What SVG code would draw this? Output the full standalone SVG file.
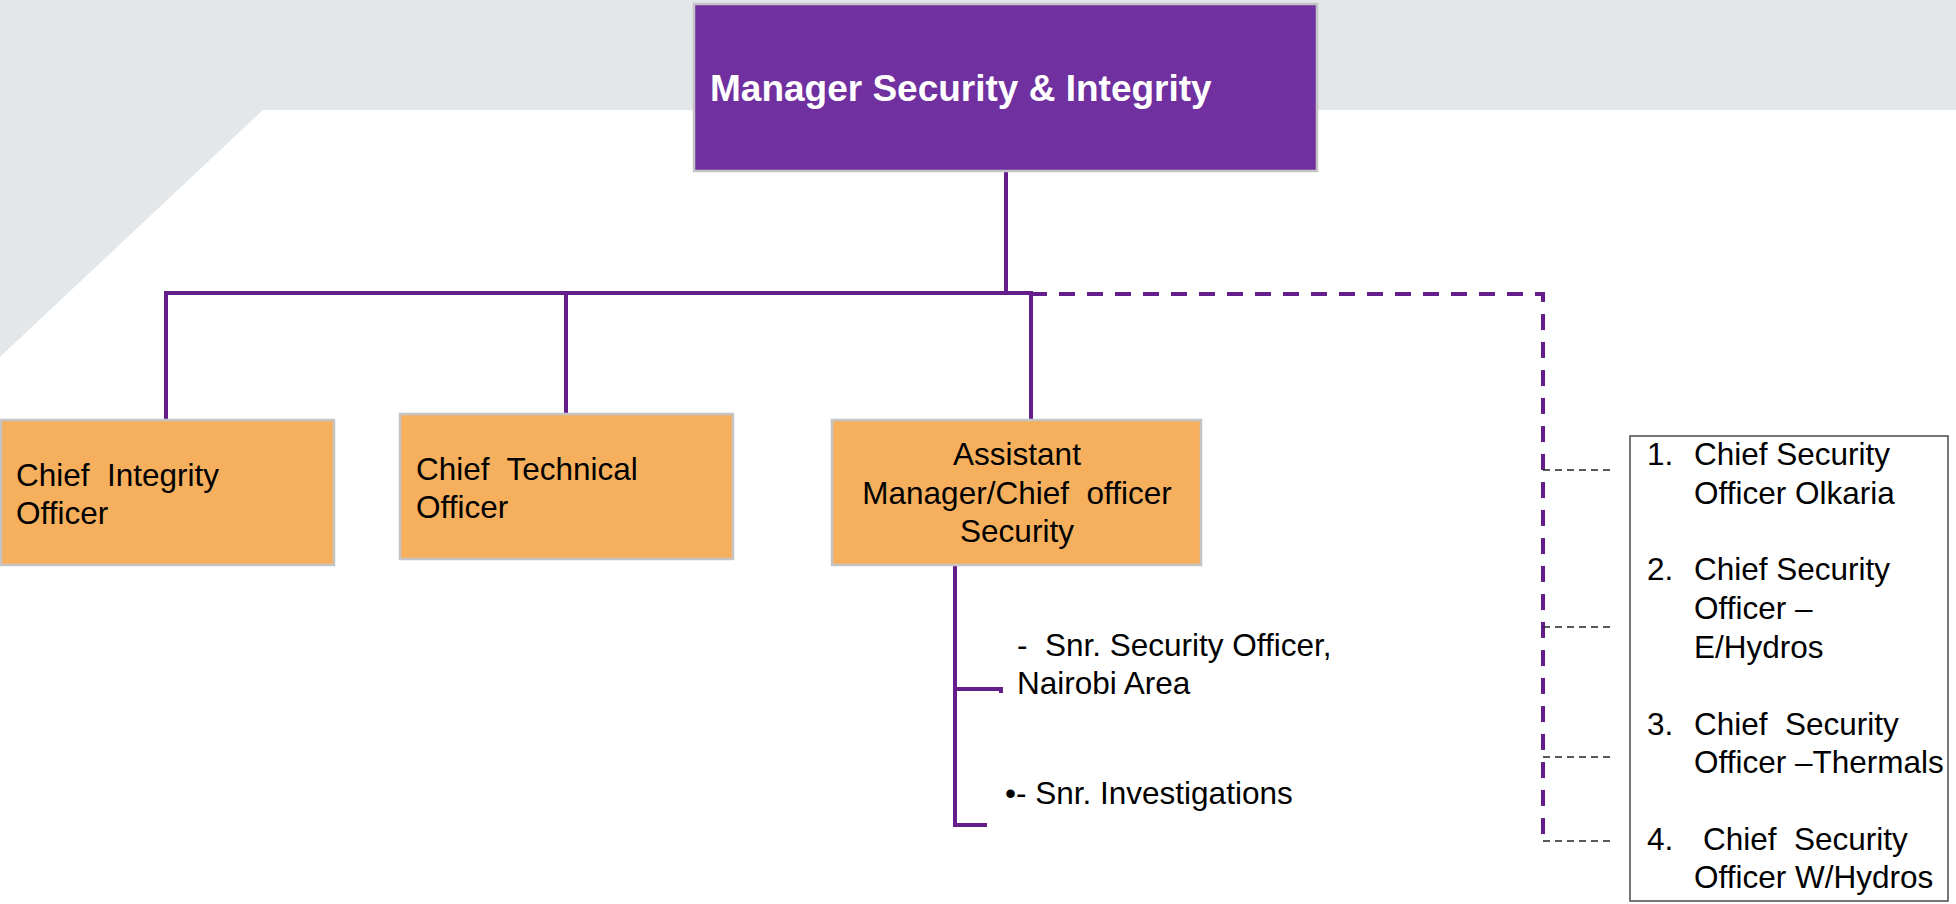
<svg xmlns="http://www.w3.org/2000/svg" width="1956" height="904" viewBox="0 0 1956 904">
<style>
.t{font-family:"Liberation Sans",Arial,sans-serif;font-size:31.5px;fill:#000}
.orange{fill:#F6B05D;stroke:#C4C4C4;stroke-width:2.5}
.conn{fill:none;stroke:#641E8C;stroke-width:4}
.dash{fill:none;stroke:#641E8C;stroke-width:4;stroke-dasharray:16 12}
.thin{fill:none;stroke:#222;stroke-width:1.6;stroke-dasharray:7 5}
</style>
<rect width="1956" height="904" fill="#fff"/>
<polygon points="0,0 1956,0 1956,110 263,110 0,357" fill="#E3E7EA"/>
<g id="connectors">
<path class="conn" d="M1006,172 V293 M166,420 V293 H1031 V420 M566,293 V414"/>
<path class="dash" d="M1031,294 H1543 V845"/>
<path class="conn" d="M955,565 V825 H987 M955,689 H1001 V693"/>
<path class="thin" d="M1543,470 H1614 M1543,627 H1614 M1543,757 H1614 M1543,841 H1614"/>
</g>
<g id="manager">
<rect x="694" y="4" width="623" height="167" fill="#7030A0" stroke="#C4C4C4" stroke-width="2.5"/>
<text x="710" y="101" font-family="Liberation Sans,Arial,sans-serif" font-weight="bold" font-size="37" fill="#fff">Manager Security &amp; Integrity</text>
</g>
<g id="chief-integrity">
<rect class="orange" x="1" y="420" width="333" height="145"/>
<text class="t" x="16" y="486" xml:space="preserve">Chief  Integrity</text>
<text class="t" x="16" y="524">Officer</text>
</g>
<g id="chief-technical">
<rect class="orange" x="400" y="414" width="333" height="145"/>
<text class="t" x="416" y="480" xml:space="preserve">Chief  Technical</text>
<text class="t" x="416" y="518">Officer</text>
</g>
<g id="assistant-manager">
<rect class="orange" x="832" y="420" width="369" height="145"/>
<text class="t" x="1017" y="465" text-anchor="middle">Assistant</text>
<text class="t" x="1017" y="504" text-anchor="middle" xml:space="preserve">Manager/Chief  officer</text>
<text class="t" x="1017" y="542" text-anchor="middle">Security</text>
</g>
<g id="snr-security">
<text class="t" x="1017" y="656" xml:space="preserve">-  Snr. Security Officer,</text>
<text class="t" x="1017" y="694">Nairobi Area</text>
</g>
<g id="snr-investigations">
<text class="t" x="1005" y="804">•- Snr. Investigations</text>
</g>
<g id="chief-security-list">
<rect x="1630" y="436" width="318" height="465" fill="#fff" stroke="#555" stroke-width="1.6"/>
<text class="t" x="1647" y="465">1.</text>
<text class="t" x="1694" y="465">Chief Security</text>
<text class="t" x="1694" y="504">Officer Olkaria</text>
<text class="t" x="1647" y="580">2.</text>
<text class="t" x="1694" y="580">Chief Security</text>
<text class="t" x="1694" y="619">Officer –</text>
<text class="t" x="1694" y="658">E/Hydros</text>
<text class="t" x="1647" y="735">3.</text>
<text class="t" x="1694" y="735" xml:space="preserve">Chief  Security</text>
<text class="t" x="1694" y="773">Officer –Thermals</text>
<text class="t" x="1647" y="850">4.</text>
<text class="t" x="1703" y="850" xml:space="preserve">Chief  Security</text>
<text class="t" x="1694" y="888">Officer W/Hydros</text>
</g>
</svg>
